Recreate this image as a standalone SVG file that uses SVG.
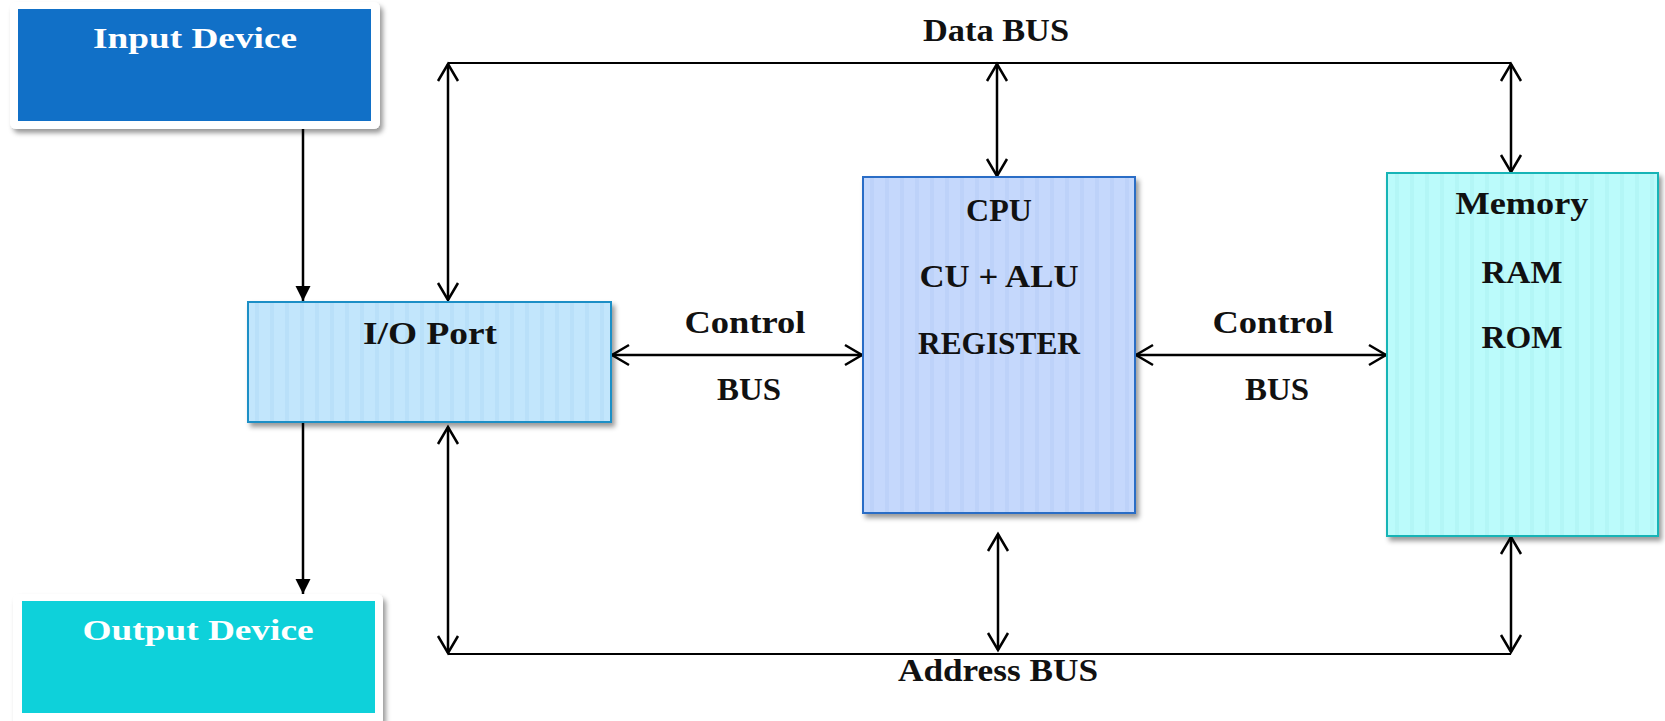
<svg xmlns="http://www.w3.org/2000/svg" width="1665" height="721" viewBox="0 0 1665 721">
<style>
.t{font-family:"Liberation Serif","Times New Roman",serif;font-weight:bold;font-size:32px;text-anchor:middle;fill:#111}
.w{fill:#ffffff;font-size:30px}
.c{stroke:#000;stroke-width:2.5;fill:none}
.bus{stroke:#000;stroke-width:2;fill:none}
.bi{marker-start:url(#open);marker-end:url(#open)}
.one{marker-end:url(#solid)}
</style>
<defs>
<filter id="sh" x="-10%" y="-10%" width="130%" height="130%">
<feDropShadow dx="3" dy="4" stdDeviation="2.5" flood-color="#000" flood-opacity="0.4"/>
</filter>
<pattern id="stripesIO" width="15" height="10" patternUnits="userSpaceOnUse">
<rect width="15" height="10" fill="#C2E6FC"/>
<rect x="0" width="4" height="10" fill="#B9E0F9"/>
</pattern>
<pattern id="stripesCPU" width="15" height="10" patternUnits="userSpaceOnUse">
<rect width="15" height="10" fill="#C5D8FC"/>
<rect x="0" width="4" height="10" fill="#BDD2F9"/>
</pattern>
<pattern id="stripesMem" width="15" height="10" patternUnits="userSpaceOnUse">
<rect width="15" height="10" fill="#BBFBFB"/>
<rect x="0" width="4" height="10" fill="#B3F6F6"/>
</pattern>
<marker id="open" markerUnits="userSpaceOnUse" markerWidth="24" markerHeight="24" viewBox="-20 -12 24 24" refX="0" refY="0" orient="auto-start-reverse">
<path d="M-17,-10 L0,0 L-17,10" fill="none" stroke="#000" stroke-width="2.5"/>
</marker>
<marker id="solid" markerUnits="userSpaceOnUse" markerWidth="20" markerHeight="20" viewBox="-16 -10 18 20" refX="0" refY="0" orient="auto">
<path d="M-15,-7.5 L0,0 L-15,7.5 Z" fill="#000"/>
</marker>
</defs>
<rect width="1665" height="721" fill="#fff"/>

<g id="connectors">
<path class="bus" d="M448,63 H1511"/>
<path class="bus" d="M448,654 H1511"/>
<path class="c one" d="M303,121 V301"/>
<path class="c one" d="M303,422 V594"/>
<path class="c bi" d="M448,64 V300"/>
<path class="c bi" d="M997,64 V176"/>
<path class="c bi" d="M1511,64 V172"/>
<path class="c bi" d="M612,355 H862"/>
<path class="c bi" d="M1136,355 H1386"/>
<path class="c bi" d="M448,427 V653"/>
<path class="c bi" d="M998,534 V650"/>
<path class="c bi" d="M1511,537 V652"/>
</g>

<g id="input-device">
<rect x="10" y="2" width="370" height="127" rx="6" fill="#fff" filter="url(#sh)"/>
<rect x="18" y="9" width="353" height="112" fill="#1170C7"/>
<text class="t w" x="195" y="48" textLength="204" lengthAdjust="spacingAndGlyphs">Input Device</text>
</g>

<g id="output-device">
<rect x="13" y="594" width="370" height="132" rx="6" fill="#fff" filter="url(#sh)"/>
<rect x="22" y="601" width="353" height="112" fill="#0ED1DA"/>
<text class="t w" x="198" y="640" textLength="231" lengthAdjust="spacingAndGlyphs">Output Device</text>
</g>

<g id="io-port">
<rect x="248" y="302" width="363" height="120" fill="url(#stripesIO)" stroke="#1F8FC6" stroke-width="2" filter="url(#sh)"/>
<text class="t" x="430" y="344" textLength="134" lengthAdjust="spacingAndGlyphs">I/O Port</text>
</g>

<g id="cpu">
<rect x="863" y="177" width="272" height="336" fill="url(#stripesCPU)" stroke="#2C6DC6" stroke-width="2" filter="url(#sh)"/>
<text class="t" x="999" y="221">CPU</text>
<text class="t" x="999" y="287" textLength="159" lengthAdjust="spacingAndGlyphs">CU + ALU</text>
<text class="t" x="999" y="354" textLength="162" lengthAdjust="spacingAndGlyphs">REGISTER</text>
</g>

<g id="memory">
<rect x="1387" y="173" width="271" height="363" fill="url(#stripesMem)" stroke="#19B4B6" stroke-width="2" filter="url(#sh)"/>
<text class="t" x="1522" y="214" textLength="133" lengthAdjust="spacingAndGlyphs">Memory</text>
<text class="t" x="1522" y="283" textLength="81" lengthAdjust="spacingAndGlyphs">RAM</text>
<text class="t" x="1522" y="348" textLength="81" lengthAdjust="spacingAndGlyphs">ROM</text>
</g>

<g id="labels">
<text class="t" x="996" y="41" textLength="146" lengthAdjust="spacingAndGlyphs">Data BUS</text>
<text class="t" x="998" y="681" textLength="200" lengthAdjust="spacingAndGlyphs">Address BUS</text>
<text class="t" x="745" y="333" textLength="121" lengthAdjust="spacingAndGlyphs">Control</text>
<text class="t" x="749" y="400" textLength="64" lengthAdjust="spacingAndGlyphs">BUS</text>
<text class="t" x="1273" y="333" textLength="121" lengthAdjust="spacingAndGlyphs">Control</text>
<text class="t" x="1277" y="400" textLength="64" lengthAdjust="spacingAndGlyphs">BUS</text>
</g>
</svg>
